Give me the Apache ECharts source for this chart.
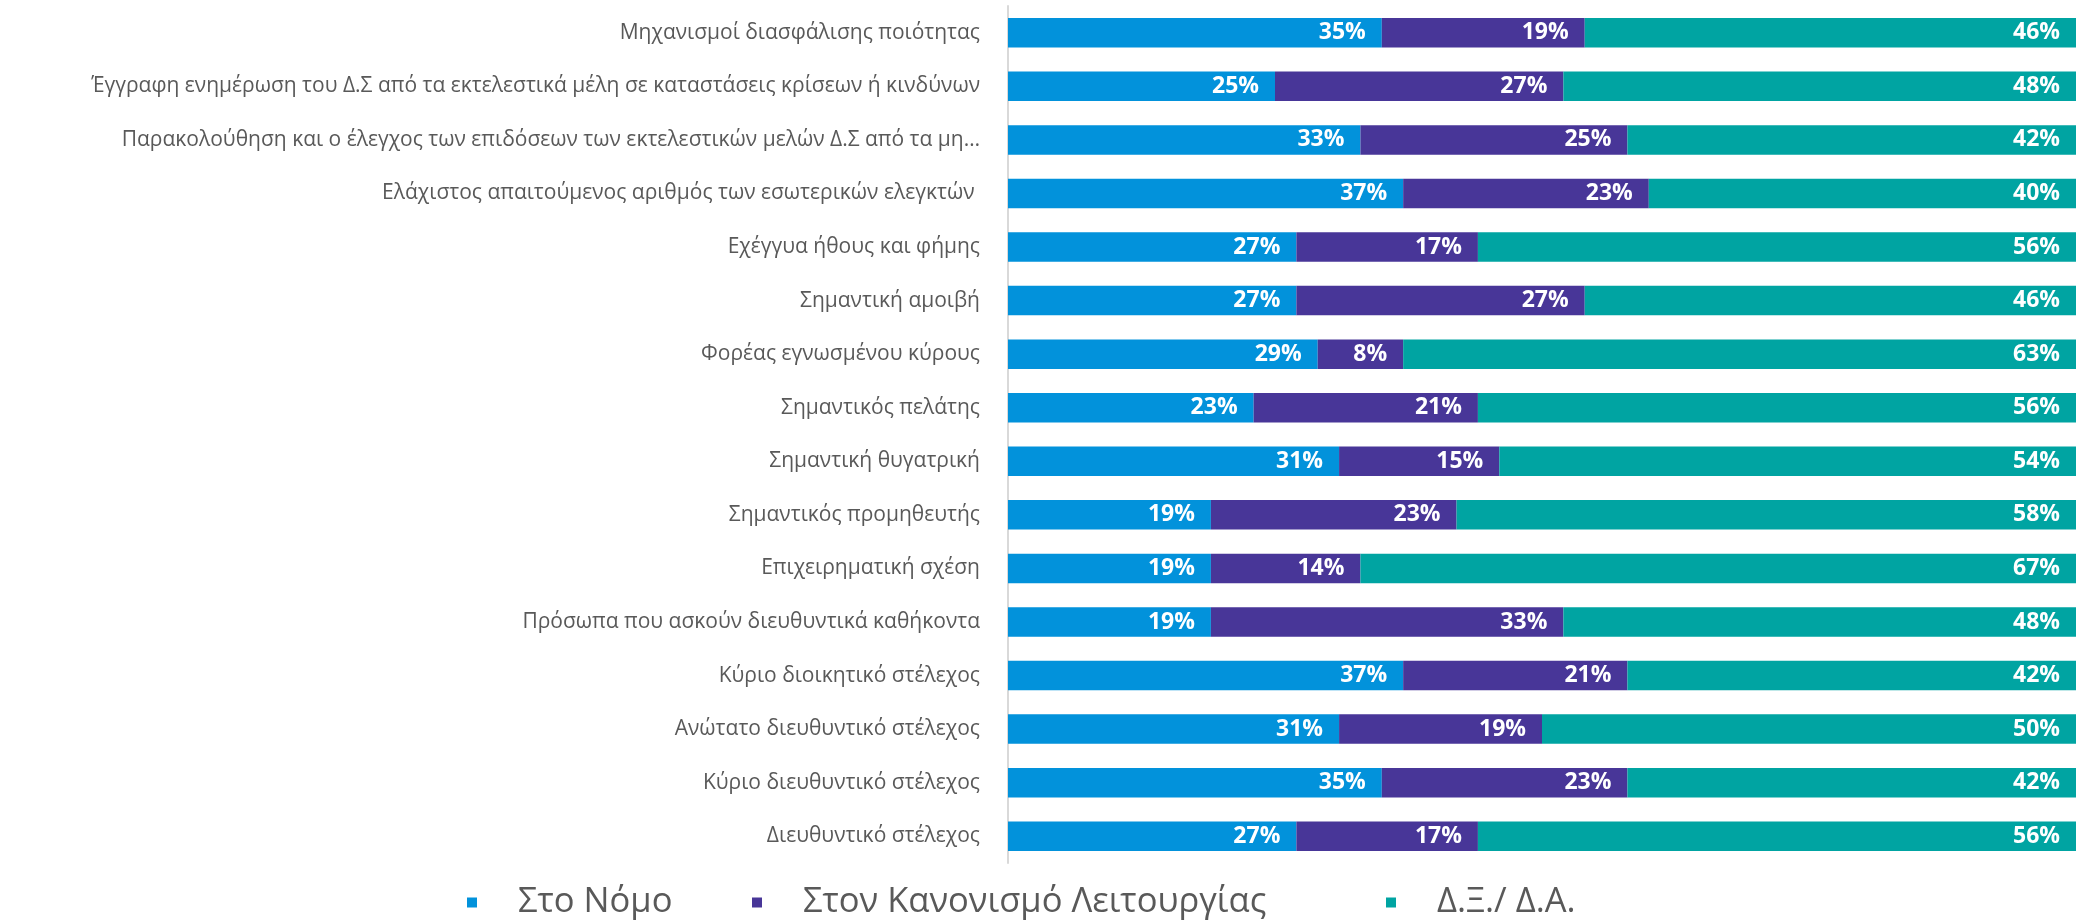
<!DOCTYPE html>
<html lang="el">
<head>
<meta charset="utf-8">
<title>Stacked bar</title>
<script src="https://cdn.jsdelivr.net/npm/echarts@6/dist/echarts.min.js"></script>
<style>
  html, body { margin: 0; padding: 0; background: #fff; }
  #main { width: 2080px; height: 922px; }
</style>
</head>
<body>
<div id="main"></div>
<script>
// κατηγορίες (από πάνω προς τα κάτω)
var categories = [
  'Μηχανισμοί διασφάλισης ποιότητας',
  'Έγγραφη ενημέρωση του Δ.Σ από τα εκτελεστικά μέλη σε καταστάσεις κρίσεων ή κινδύνων',
  'Παρακολούθηση και ο έλεγχος των επιδόσεων των εκτελεστικών μελών Δ.Σ από τα μη…',
  'Ελάχιστος απαιτούμενος αριθμός των εσωτερικών ελεγκτών ',
  'Εχέγγυα ήθους και φήμης',
  'Σημαντική αμοιβή',
  'Φορέας εγνωσμένου κύρους',
  'Σημαντικός πελάτης',
  'Σημαντική θυγατρική',
  'Σημαντικός προμηθευτής',
  'Επιχειρηματική σχέση',
  'Πρόσωπα που ασκούν διευθυντικά καθήκοντα',
  'Κύριο διοικητικό στέλεχος',
  'Ανώτατο διευθυντικό στέλεχος',
  'Κύριο διευθυντικό στέλεχος',
  'Διευθυντικό στέλεχος'
];
var seriesNames = ['Στο Νόμο', 'Στον Κανονισμό Λειτουργίας', 'Δ.Ξ./ Δ.Α.'];
var stoNomo     = [35, 25, 33, 37, 27, 27, 29, 23, 31, 19, 19, 19, 37, 31, 35, 27];
var stonKanon   = [19, 27, 25, 23, 17, 27,  8, 21, 15, 23, 14, 33, 21, 19, 23, 17];
var dxda        = [46, 48, 42, 40, 56, 46, 63, 56, 54, 58, 67, 48, 42, 50, 42, 56];

var colors = ['#0292DB', '#483698', '#00A4A2'];
var font = '"Open Sans", "Liberation Sans", Arial, sans-serif';

var myChart = echarts.init(document.getElementById('main'));

function makeSeries(name, data, color) {
  return {
    name: name,
    type: 'bar',
    stack: 'total',
    data: data,
    barWidth: '55%',
    itemStyle: { color: color },
    label: {
      show: true,
      position: 'insideRight',
      distance: 16,
      formatter: '{c}%',
      color: '#fff',
      fontWeight: 'bold',
      fontSize: 23,
      fontFamily: font
    }
  };
}

function makeLegend(name, left) {
  return {
    data: [name],
    left: left,
    top: 880,
    icon: 'rect',
    itemWidth: 10,
    itemHeight: 10,
    textStyle: {
      color: '#595959',
      fontSize: 34.5,
      fontFamily: font,
      padding: [0, 0, 0, 36]
    }
  };
}

var option = {
  animation: false,
  color: colors,
  legend: [
    makeLegend(seriesNames[0], 462),
    makeLegend(seriesNames[1], 747),
    makeLegend(seriesNames[2], 1381)
  ],
  grid: { left: 1008, right: 4, top: 6, bottom: 59, containLabel: false },
  xAxis: {
    type: 'value',
    min: 0,
    max: 100,
    show: false
  },
  yAxis: {
    type: 'category',
    data: categories,
    inverse: true,
    axisLine: { show: true, lineStyle: { color: '#D9D9D9', width: 2 } },
    axisTick: { show: false },
    axisLabel: {
      color: '#595959',
      fontSize: 21,
      fontFamily: font,
      margin: 28
    }
  },
  series: [
    makeSeries(seriesNames[0], stoNomo, colors[0]),
    makeSeries(seriesNames[1], stonKanon, colors[1]),
    makeSeries(seriesNames[2], dxda, colors[2])
  ]
};

myChart.setOption(option);
</script>
</body>
</html>
